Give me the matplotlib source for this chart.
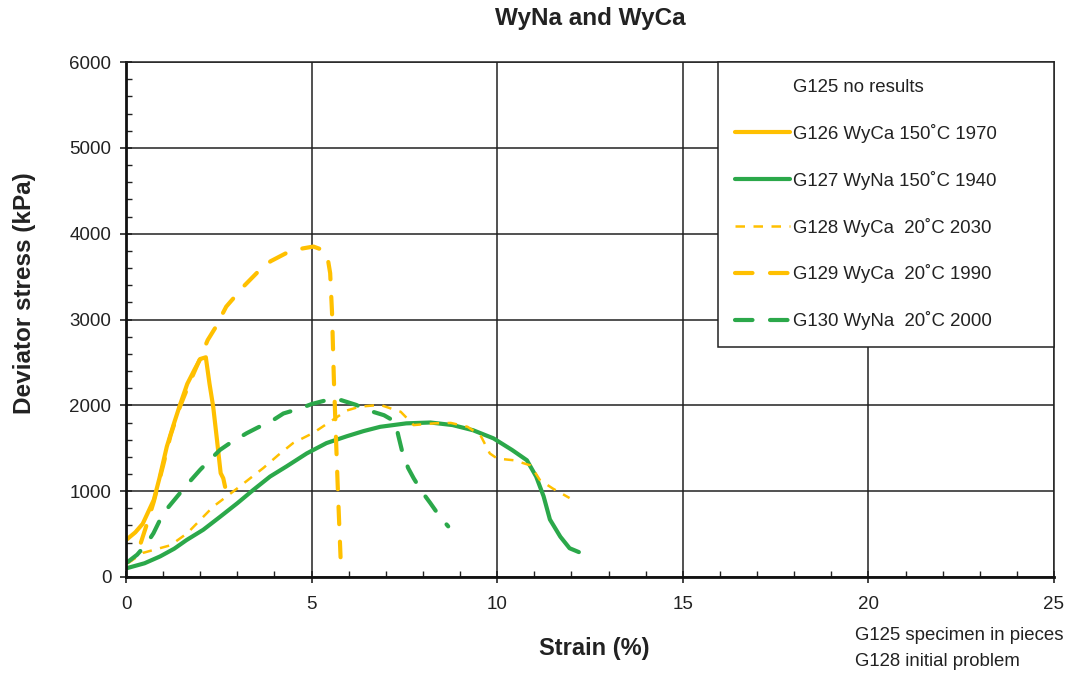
import matplotlib
matplotlib.use("Agg")
import matplotlib.pyplot as plt
from matplotlib.lines import Line2D
from matplotlib.ticker import MultipleLocator

plt.rcParams["font.family"] = ["Liberation Sans", "DejaVu Sans"]

YELLOW = "#FFC000"
GREEN = "#2BA84A"
INK = "#222222"

# G126 WyCa 150C
g126_x = [0.0, 0.25, 0.45, 0.6, 0.75, 0.9, 1.1, 1.3, 1.45, 1.65, 1.85, 2.0, 2.15,
          2.25, 2.35, 2.45, 2.55, 2.62, 2.67]
g126_y = [430, 520, 620, 760, 900, 1150, 1520, 1800, 2000, 2250, 2420, 2540, 2560,
          2250, 1980, 1600, 1210, 1150, 1050]

# G127 WyNa 150C
g127_x = [0.0, 0.5, 0.92, 1.3, 1.63, 2.08, 2.53, 3.0, 3.43, 3.88, 4.33, 4.87, 5.4,
          5.95, 6.4, 6.85, 7.55, 8.2, 8.8, 9.35, 9.9, 10.4, 10.8, 11.05, 11.25,
          11.42, 11.7, 11.95, 12.2]
g127_y = [100, 160, 240, 330, 430, 550, 700, 860, 1015, 1170, 1290, 1440, 1560,
          1640, 1700, 1750, 1790, 1800, 1770, 1710, 1615, 1480, 1360, 1170, 940,
          670, 470, 335, 290]

# G128 WyCa 20C
g128_x = [0.05, 0.45, 1.2, 1.65, 2.35, 2.9, 3.7, 4.1, 4.5, 5.05, 5.5, 5.95, 6.3,
          6.85, 7.4, 7.75, 8.3, 8.75, 9.2, 9.55, 9.8, 10.0, 10.45, 10.9, 11.15,
          11.5, 11.95]
g128_y = [160, 280, 370, 510, 820, 1000, 1270, 1420, 1560, 1680, 1810, 1940, 1985,
          2005, 1925, 1770, 1790, 1795, 1750, 1650, 1440, 1380, 1360, 1300, 1130,
          1030, 920]

# G129 WyCa 20C
g129_x = [0.4, 0.55, 0.75, 1.0, 1.2, 1.45, 1.7, 2.0, 2.2, 2.4, 2.7, 3.2, 3.7, 3.9,
          4.3, 4.65, 5.05, 5.3, 5.42, 5.5, 5.55, 5.6, 5.65, 5.7, 5.75, 5.78]
g129_y = [400, 600, 880, 1300, 1650, 1980, 2250, 2550, 2760, 2900, 3150, 3400, 3620,
          3680, 3770, 3820, 3850, 3810, 3750, 3540, 3080, 2300, 1700, 1100, 550, 230]

# G130 WyNa 20C
g130_x = [0.03, 0.3, 0.56, 0.74, 1.0, 1.45, 1.63, 2.0, 2.17, 2.53, 2.8, 3.25, 3.52,
          3.97, 4.24, 4.7, 5.0, 5.4, 5.8, 6.2, 6.5, 6.95, 7.25, 7.34, 7.43, 7.6,
          7.75, 7.97, 8.2, 8.46, 8.68]
g130_y = [170, 260, 390, 510, 740, 975, 1070, 1250, 1325, 1480, 1560, 1675, 1735,
          1830, 1905, 1965, 2015, 2060, 2060, 2005, 1945, 1885, 1810, 1640, 1480,
          1270, 1150, 995, 860, 700, 590]

labels = [
    "G125 no results",
    "G126 WyCa 150˚C 1970",
    "G127 WyNa 150˚C 1940",
    "G128 WyCa  20˚C 2030",
    "G129 WyCa  20˚C 1990",
    "G130 WyNa  20˚C 2000",
]
notes = ["G125 specimen in pieces", "G128 initial problem"]

fig = plt.figure(figsize=(10.67, 6.75), dpi=100)
ax = fig.add_axes([0.1181, 0.1452, 0.8697, 0.7629])

thick_dash = dict(lw=3.0, dashes=(4.2, 4.2), dash_capstyle="round")
thin_dash = dict(lw=1.8, dashes=(3.8, 3.4), dash_capstyle="butt")

h126, = ax.plot(g126_x, g126_y, color=YELLOW, lw=3.0, solid_capstyle="round")
h127, = ax.plot(g127_x, g127_y, color=GREEN, lw=3.0, solid_capstyle="round")
h128, = ax.plot(g128_x, g128_y, color=YELLOW, **thin_dash)
h129, = ax.plot(g129_x, g129_y, color=YELLOW, **thick_dash)
h130, = ax.plot(g130_x, g130_y, color=GREEN, **thick_dash)

ax.set_xlim(0, 25)
ax.set_ylim(0, 6000)
ax.xaxis.set_major_locator(MultipleLocator(5))
ax.xaxis.set_minor_locator(MultipleLocator(1))
ax.yaxis.set_major_locator(MultipleLocator(1000))
ax.yaxis.set_minor_locator(MultipleLocator(200))
ax.grid(True, which="major", color=INK, lw=1.1)
ax.set_axisbelow(True)

ax.tick_params(which="major", direction="inout", length=9, width=1.2,
               labelsize=13.5, colors=INK)
ax.tick_params(axis="x", which="major", pad=9)
ax.tick_params(axis="y", which="major", pad=6)
ax.tick_params(which="minor", direction="in", length=4, width=1.0, color=INK)
ax.tick_params(axis="x", which="both", top=False)
ax.tick_params(axis="y", which="both", right=False)

for side in ["left", "bottom"]:
    ax.spines[side].set_linewidth(2.0)
    ax.spines[side].set_color("#111111")
for side in ["top", "right"]:
    ax.spines[side].set_linewidth(1.1)
    ax.spines[side].set_color(INK)

fig.text(0.553, 0.972, "WyNa and WyCa", fontsize=17.5, fontweight="bold",
         color=INK, ha="center", va="center")
ax.set_xlabel("Strain (%)", fontsize=17, fontweight="bold", color=INK)
ax.set_ylabel("Deviator stress (kPa)", fontsize=17.5, fontweight="bold", color=INK)
ax.xaxis.set_label_coords(0.505, -0.138)
ax.xaxis.label.set_va("center")
ax.yaxis.set_label_coords(-0.109, 0.552)
ax.yaxis.label.set_va("center")

blank = Line2D([], [], color="none")
leg = ax.legend([blank, h126, h127, h128, h129, h130], labels,
                loc="upper left", bbox_to_anchor=(0.638, 0.0, 0.362, 1.0),
                mode="expand", borderaxespad=0, fontsize=13.4, frameon=True,
                fancybox=False, edgecolor=INK, framealpha=1,
                handlelength=2.95, handletextpad=0.16, labelspacing=1.5,
                borderpad=0.9)
leg.get_frame().set_linewidth(1.1)
for t in leg.get_texts():
    t.set_color(INK)

fig.text(0.801, 0.0578, notes[0], fontsize=13.4, color=INK, va="center")
fig.text(0.801, 0.0193, notes[1], fontsize=13.4, color=INK, va="center")

fig.savefig("out.png", dpi=100)
